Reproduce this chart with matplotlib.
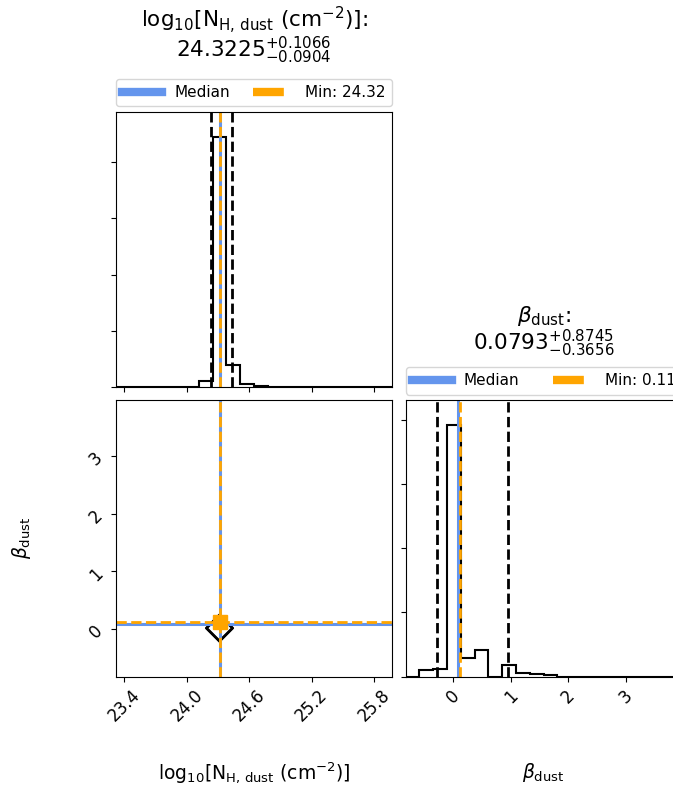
import numpy as np
import matplotlib.pyplot as plt
from matplotlib.lines import Line2D

# parameter names / summary numbers
nh_label = r"log$_{10}$[N$_{\rm H,\,dust}$ (cm$^{-2}$)]"
beta_label = r"$\beta_{\rm dust}$"

nh_range = (23.32, 25.97)
beta_range = (-0.83, 3.97)

nh_median, nh_lo, nh_hi = 24.3225, 0.0904, 0.1066
beta_median, beta_lo, beta_hi = 0.0793, 0.3656, 0.8745
nh_min = 24.32
beta_min = 0.11

# 1D histograms (20 bins over the axis range)
nh_counts = [0, 0, 0, 0, 0, 0, 0.107, 4.45, 0.387, 0.06, 0.02,
             0, 0, 0, 0, 0, 0, 0, 0, 0]
beta_counts = [0, 0.104, 0.115, 3.92, 0.286, 0.417, 0, 0.177, 0.052, 0.04,
               0.026, 0, 0, 0, 0, 0, 0, 0, 0, 0]

# 2D histogram: everything piles up in one cell
h2d = np.zeros((20, 20))
h2d[3, 7] = 1.0
contour_levels = [0.02, 0.05, 0.09]

blue = "cornflowerblue"
orange = "orange"

fig = plt.figure(figsize=(6.73, 7.87), dpi=100)
ax00 = fig.add_axes([0.1724, 0.5083, 0.410, 0.3494])
ax10 = fig.add_axes([0.1724, 0.1404, 0.410, 0.3513])
ax11 = fig.add_axes([0.6028, 0.1404, 0.410, 0.3513])

nh_edges = np.linspace(nh_range[0], nh_range[1], 21)
beta_edges = np.linspace(beta_range[0], beta_range[1], 21)


def diag_panel(ax, edges, counts, med, lo, hi, mn, title, min_txt, ty):
    ax.stairs(counts, edges, color="k", lw=1.5)
    ax.axvline(med - lo, color="k", ls="--", lw=2)
    ax.axvline(med + hi, color="k", ls="--", lw=2)
    ax.axvline(med, color=blue, lw=2.2)
    ax.axvline(mn, color=orange, ls="--", lw=2)
    ax.set_xlim(edges[0], edges[-1])
    ax.set_ylim(0, 1.1 * max(counts))
    ax.set_yticklabels([])
    ax.tick_params(labelsize=12)
    handles = [Line2D([], [], color=blue, lw=6),
               Line2D([], [], color=orange, lw=6, ls="--")]
    ax.legend(handles, ["Median", min_txt], ncol=2, mode="expand",
              loc="lower left", bbox_to_anchor=(0, 1.02, 1, 0.1),
              borderaxespad=0, fontsize=11, handlelength=2.6)
    ax.text(0.5, ty, title, transform=ax.transAxes, ha="center",
            va="bottom", fontsize=15.5, linespacing=0.95)


diag_panel(ax00, nh_edges, nh_counts, nh_median, nh_lo, nh_hi, nh_min,
           nh_label + ":\n" + r"$24.3225_{-0.0904}^{+0.1066}$", "Min: 24.32",
           1.168)
diag_panel(ax11, beta_edges, beta_counts, beta_median, beta_lo, beta_hi,
           beta_min, beta_label + ":\n" + r"$0.0793_{-0.3656}^{+0.8745}$",
           "Min: 0.11", 1.15)

nh_ticks = [23.4, 24.0, 24.6, 25.2, 25.8]
beta_ticks = [0, 1, 2, 3]

ax00.set_xticks(nh_ticks)
ax00.set_xticklabels([])

ax11.set_xticks(beta_ticks)
ax11.set_xticklabels([str(t) for t in beta_ticks], rotation=45)
ax11.set_xlabel(beta_label, fontsize=13.5)
ax11.xaxis.set_label_coords(0.5, -0.305)

# 2D panel
xc = 0.5 * (nh_edges[1:] + nh_edges[:-1])
yc = 0.5 * (beta_edges[1:] + beta_edges[:-1])
ax10.contour(xc, yc, h2d, levels=contour_levels, colors="k", linewidths=1.5)
ax10.axvline(nh_median, color=blue, lw=2.2)
ax10.axvline(nh_min, color=orange, ls="--", lw=2)
ax10.axhline(beta_median, color=blue, lw=2.2)
ax10.axhline(beta_min, color=orange, ls="--", lw=2)
ax10.plot(nh_min, beta_min, "s", color=orange, ms=10)
ax10.set_xlim(*nh_range)
ax10.set_ylim(*beta_range)
ax10.set_xticks(nh_ticks)
ax10.set_xticklabels([f"{t:.1f}" for t in nh_ticks], rotation=45)
ax10.set_yticks(beta_ticks)
ax10.set_yticklabels([str(t) for t in beta_ticks], rotation=45)
ax10.tick_params(labelsize=12)
ax10.set_xlabel(nh_label, fontsize=13.5)
ax10.xaxis.set_label_coords(0.5, -0.305)
ax10.set_ylabel(beta_label, fontsize=13.5)
ax10.yaxis.set_label_coords(-0.30, 0.5)

fig.savefig("out.png", dpi=100)
